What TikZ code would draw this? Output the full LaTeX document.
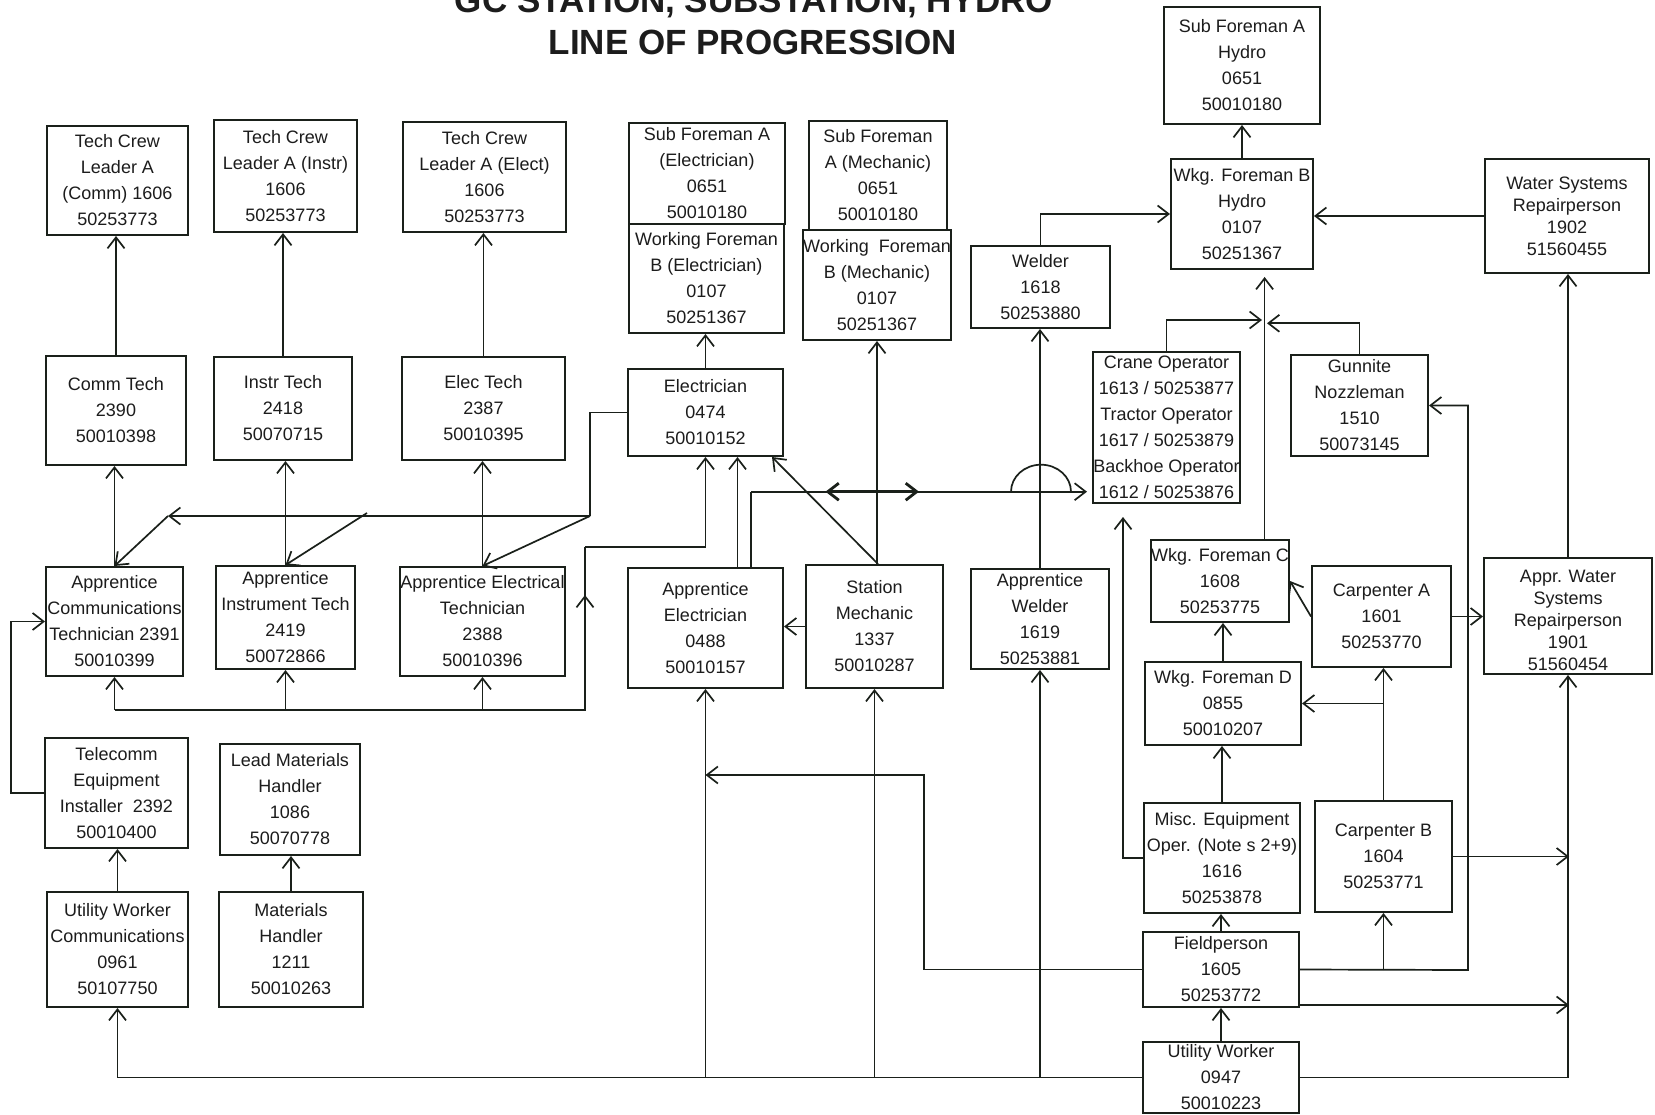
\documentclass[tikz,border=0pt]{standalone}
\usepackage{fontspec}
\setmainfont{Liberation Sans}
\usetikzlibrary{arrows.meta}
\definecolor{ink}{HTML}{1A201A}
\definecolor{txt}{HTML}{1C1C1C}
\newcommand\mybox[7][]{%
  \pgfmathsetmacro\myBW{#5-#3}\pgfmathsetmacro\myBH{#6-#4}%
  \pgfmathsetmacro\myBX{(#3+#5)/2}\pgfmathsetmacro\myBY{(#4+#6)/2}%
  \node[bx,#1,minimum width=\myBW pt,minimum height=\myBH pt] (#2) at (\myBX,\myBY) {#7};}
\begin{document}
\begin{tikzpicture}[x=1pt,y=-1pt,
  bx/.style={draw=ink,line width=2pt,inner sep=0pt,align=center,text=txt,font=\fontsize{18}{26}\selectfont},
  tight/.style={font=\fontsize{18}{22}\selectfont},
  ln/.style={draw=ink,line width=1.7pt},
  arr/.style={ln,-{Straight Barb[length=11pt,width=17pt]}},
  dbl/.style={ln,line width=2.8pt,{Straight Barb[length=11pt,width=17pt]}-{Straight Barb[length=11pt,width=17pt]}}]
\fill[white] (0,0) rectangle (1655,1115);
\useasboundingbox (0,0) rectangle (1655,1115);
% title
\node[anchor=base,text=txt,font=\bfseries\fontsize{35}{42}\selectfont] (title1) at (754,13) {GC STATION, SUBSTATION, HYDRO};
\node[anchor=base,text=txt,font=\bfseries\fontsize{35}{42}\selectfont] (title2) at (753,55) {LINE OF PROGRESSION};
% boxes
\mybox{tclc}{47}{126}{188}{235}{Tech Crew\\Leader A\\(Comm) 1606\\50253773}
\mybox{tcli}{214}{120}{357}{232}{Tech Crew\\Leader A (Instr)\\1606\\50253773}
\mybox{tcle}{403}{122}{566}{232}{Tech Crew\\Leader A (Elect)\\1606\\50253773}
\mybox{sfae}{629}{123}{785}{224}{Sub Foreman A\\(Electrician)\\0651\\50010180}
\mybox{wfbe}{629}{224}{784}{333}{Working Foreman\\B (Electrician)\\0107\\50251367}
\mybox{sfam}{809}{121}{947}{230}{Sub Foreman\\A (Mechanic)\\0651\\50010180}
\mybox{wfbm}{808}{230}{946}{340}{Working\ \ Foreman\\B (Mechanic)\\0107\\50251367}
\mybox{welder}{971}{246}{1110}{328}{Welder\\1618\\50253880}
\mybox{sfah}{1164}{7}{1320}{124}{Sub Foreman A\\Hydro\\0651\\50010180}
\mybox{wfbh}{1171}{159}{1313}{269}{Wkg. Foreman B\\Hydro\\0107\\50251367}
\mybox[tight]{wsr}{1485}{159}{1649}{273}{Water Systems\\Repairperson\\1902\\51560455}
\mybox{commt}{46}{356}{186}{465}{Comm Tech\\2390\\50010398}
\mybox{instrt}{214}{357}{352}{460}{Instr Tech\\2418\\50070715}
\mybox{elect}{402}{357}{565}{460}{Elec Tech\\2387\\50010395}
\mybox{electrician}{628}{369}{783}{456}{Electrician\\0474\\50010152}
\mybox{crane}{1093}{352}{1240}{503}{Crane Operator\\1613 / 50253877\\Tractor Operator\\1617 / 50253879\\Backhoe Operator\\1612 / 50253876}
\mybox{gunnite}{1291}{355}{1428}{456}{Gunnite\\Nozzleman\\1510\\50073145}
\mybox{appcomm}{46}{567}{183}{676}{Apprentice\\Communications\\Technician 2391\\50010399}
\mybox{appinstr}{216}{566}{355}{669}{Apprentice\\Instrument Tech\\2419\\50072866}
\mybox{appelect}{401}{567}{564}{676}{Apprentice Electrical\\Technician\\2388\\50010396}
\mybox{appelec}{628}{568}{783}{688}{Apprentice\\Electrician\\0488\\50010157}
\mybox{statmech}{806}{565}{943}{688}{Station\\Mechanic\\1337\\50010287}
\mybox{appweld}{971}{569}{1109}{669}{Apprentice\\Welder\\1619\\50253881}
\mybox{wfc}{1151}{540}{1289}{622}{Wkg. Foreman C\\1608\\50253775}
\mybox{carpa}{1312}{566}{1451}{667}{Carpenter A\\1601\\50253770}
\mybox[tight]{apprwsr}{1484}{558}{1652}{674}{\rule{0pt}{22pt}Appr. Water\\Systems\\Repairperson\\1901\\51560454}
\mybox{wfd}{1145}{662}{1301}{745}{Wkg. Foreman D\\0855\\50010207}
\mybox{tei}{45}{738}{188}{848}{Telecomm\\Equipment\\Installer\ \ 2392\\50010400}
\mybox{lmh}{220}{744}{360}{855}{Lead Materials\\Handler\\1086\\50070778}
\mybox{misc}{1144}{803}{1300}{913}{Misc. Equipment\\Oper. (Note s 2+9)\\1616\\50253878}
\mybox{carpb}{1315}{801}{1452}{912}{Carpenter B\\1604\\50253771}
\mybox{uwc}{47}{892}{188}{1007}{Utility Worker\\Communications\\0961\\50107750}
\mybox{mh}{219}{892}{363}{1007}{Materials\\Handler\\1211\\50010263}
\mybox{field}{1143}{932}{1299}{1007}{Fieldperson\\1605\\50253772}
\mybox{uw}{1143}{1042}{1299}{1113}{Utility Worker\\0947\\50010223}
% coordinates
\coordinate (eA) at (590,516);
\coordinate (eB) at (168,516);
\coordinate (eC) at (367,513);
\coordinate (bA) at (585,710);
\coordinate (bB) at (585,547);
\coordinate (bM) at (585,595);
\coordinate (hA) at (751,491.7);
\coordinate (dA) at (825.5,491.7);
\coordinate (dB) at (919,491.7);
\coordinate (hop) at (1011,491.7);
\coordinate (vT) at (1264.6,277);
\coordinate (jL) at (1262,320);
\coordinate (jR) at (1267,323.3);
\coordinate (mC) at (1123,517);
\coordinate (rV) at (1569,0);
\coordinate (fR) at (1468,970);
\coordinate (fL) at (924.3,775);
\coordinate (tL) at (10.7,793);
\coordinate (fS) at ([yshift=3pt]field.south east);
% tech ladders
\draw[arr] (commt.north) -- (commt.north |- tclc.south);
\draw[arr] (instrt.north) -- (instrt.north |- tcli.south);
\draw[arr] (elect.north) -- (elect.north |- tcle.south);
\draw[arr] (appcomm.north) -- (appcomm.north |- commt.south);
\draw[arr] (appinstr.north) -- (appinstr.north |- instrt.south);
\draw[arr] (appelect.north) -- (appelect.north |- elect.south);
% electrician to apprentices
\draw[ln] (electrician.west) -- (electrician.west -| eA) -- (eA);
\draw[arr] (eA) -- (eB);
\draw[arr] (eA) -- (appelect.north);
\draw[arr] (eC) -- (appinstr.north);
\draw[arr] (eB) -- (appcomm.north);
% apprentices bottom feed to electrician
\draw[ln] (appcomm.south |- bA) -- (bA) -- (bB);
\draw[arr] (bA) -- (bM);
\draw[arr] (bB) -- (bB -| electrician.south) -- (electrician.south);
\draw[arr] (appcomm.south |- bA) -- (appcomm.south);
\draw[arr] (appinstr.south |- bA) -- (appinstr.south);
\draw[arr] (appelect.south |- bA) -- (appelect.south);
% electrician column
\draw[arr] (electrician.north) -- (electrician.north |- wfbe.south);
\draw[arr] ([xshift=32pt]appelec.north) -- ([xshift=32pt]electrician.south);
\draw[ln] ([xshift=45.5pt]appelec.north) -- (hA);
\draw[arr,shorten >=5pt] (hA) -- (hA -| crane.west);
\draw[dbl] (dA) -- (dB);
\draw[ln] (hop) arc[start angle=180,end angle=360,x radius=30,y radius=27];
% station mechanic
\draw[arr] ([xshift=3.5pt]statmech.north) -- ([xshift=-12pt]electrician.south east);
\draw[arr] (statmech.west) -- (statmech.west -| appelec.east);
\draw[arr] (wfbm.south |- statmech.north) -- (wfbm.south);
% welder
\draw[arr] (appweld.north) -- (appweld.north |- welder.south);
\draw[arr] (welder.north) |- (wfbh.west);
% hydro
\draw[arr] (wfbh.north) -- (wfbh.north |- sfah.south);
\draw[arr] (wsr.west) -- (wsr.west -| wfbh.east);
\draw[arr] (apprwsr.north) -- (apprwsr.north |- wsr.south);
\draw[arr] (wfc.north -| vT) -- (vT);
\draw[arr] (crane.north) |- (jL);
\draw[arr] (gunnite.north) |- (jR);
\draw[arr] (misc.west) -| (mC);
\draw[arr] (carpa.west) -- (wfc.east);
\draw[arr] (carpa.east) -- (carpa.east -| apprwsr.west);
\draw[arr] (wfd.north) -- (wfd.north |- wfc.south);
\draw[arr] (misc.north) -- (misc.north |- wfd.south);
\draw[arr] (field.north) -- (field.north |- misc.south);
\draw[arr] (uw.north) -- (uw.north |- field.south);
\draw[arr] (carpb.north) -- (carpb.north |- carpa.south);
\draw[arr] (carpb.north |- wfd.east) -- (wfd.east);
\draw[arr] (carpb.east) -- (carpb.east -| rV);
\draw[arr] (field.east) -- (fR) |- (gunnite.east);
\draw[arr] (carpb.south |- fR) -- (carpb.south);
\draw[arr] (fS) -- (fS -| rV);
\draw[arr] (field.west) -| (fL) -- (fL -| appelec.south);
% utility worker feeds
\draw[arr] (uw.east) -| (apprwsr.south);
\draw[arr] (uw.west) -| (uwc.south);
\draw[arr] (appelec.south |- uw.west) -- (appelec.south);
\draw[arr] (statmech.south |- uw.west) -- (statmech.south);
\draw[arr] (appweld.south |- uw.west) -- (appweld.south);
% left column
\draw[arr] (uwc.north) -- (uwc.north |- tei.south);
\draw[arr] (mh.north) -- (mh.north |- lmh.south);
\draw[arr] (tei.west) -- (tei.west -| tL) |- (appcomm.west);
\end{tikzpicture}
\end{document}
